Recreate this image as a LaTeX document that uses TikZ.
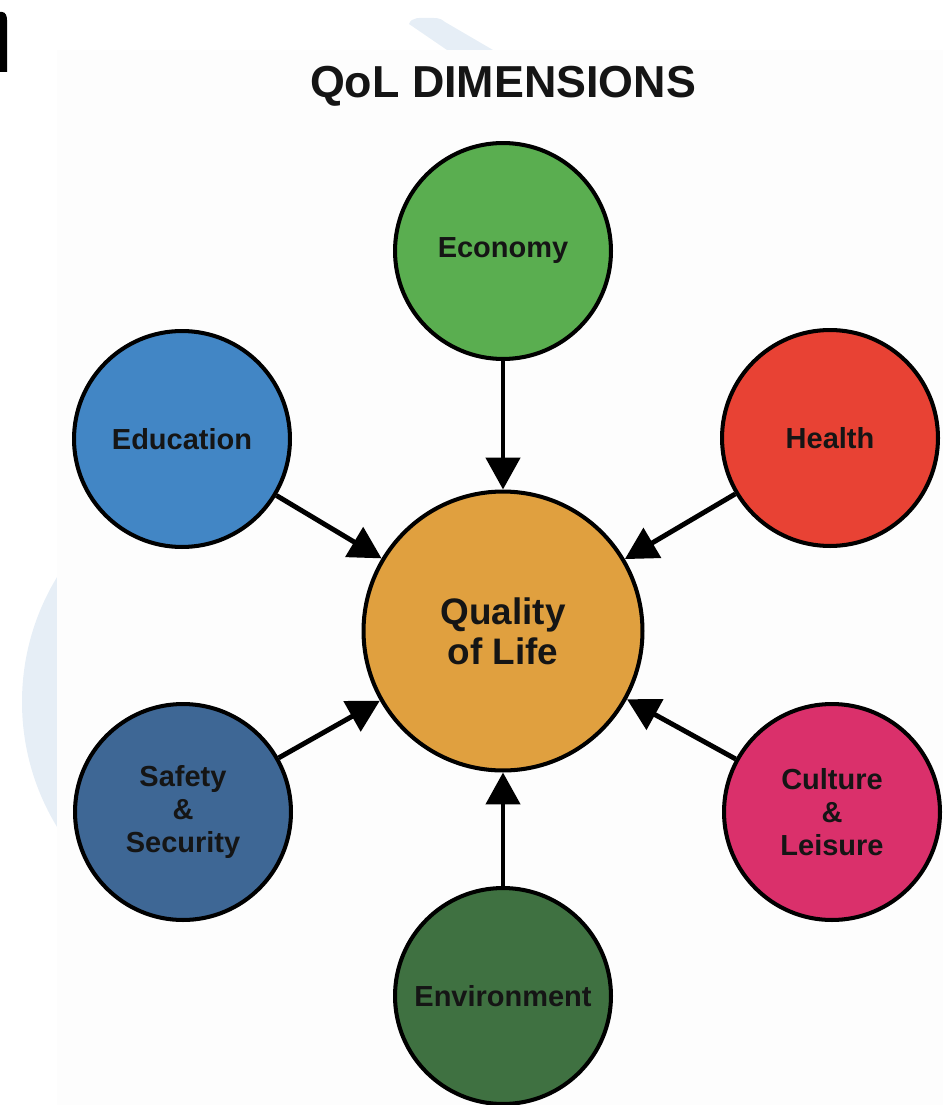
\documentclass[tikz,border=0pt]{standalone}
\usepackage{fontspec}
\setmainfont{Liberation Sans}
\usetikzlibrary{arrows.meta}
\definecolor{econ}{HTML}{5AAE50}
\definecolor{educ}{HTML}{4286C5}
\definecolor{heal}{HTML}{E84234}
\definecolor{qolc}{HTML}{E0A03F}
\definecolor{safe}{HTML}{3E6795}
\definecolor{cult}{HTML}{DA306B}
\definecolor{envi}{HTML}{3F7141}
\definecolor{txt}{HTML}{151515}
\definecolor{pale}{HTML}{E6EEF6}
\definecolor{panel}{HTML}{FDFDFD}
\begin{document}
\begin{tikzpicture}[x=0.02cm,y=-0.02cm,
  dim/.style={circle, draw=black, line width=2.3pt, minimum size=4.32cm, inner sep=0pt, align=center,
              font=\fontsize{16.5}{18.7}\selectfont\bfseries, text=txt},
  core/.style={dim, minimum size=5.58cm, font=\fontsize{21}{22.7}\selectfont\bfseries},
  feed/.style={line width=2.8pt, draw=black, -{Triangle[length=0.64cm,width=0.68cm]}},
  titlefont/.style={font=\fontsize{25.5}{28}\selectfont\bfseries, text=txt}]
\useasboundingbox (0,0) rectangle (943,1105);
% background watermark shapes
\fill[pale] (262,702) circle[radius=240];
\fill[pale] (409,24) to[out=70,in=180] (428,18) to[out=0,in=135] (445,22) -- (493,50) -- (447,50) -- cycle;
\fill[panel] (57,50) rectangle (943,1105);
% cropped letter fragment
\fill[black] (0,72) -- (0,12) -- (2,12) to[out=0,in=90] (7,20) -- (7,72) -- cycle;
% title
\node[titlefont] (title) at (503,86) {QoL DIMENSIONS};
% nodes
\node[core, fill=qolc] (qol) at (503,631) {Quality\\of Life};
\node[dim, fill=econ] (econ) at (503,251) {Economy};
\node[dim, fill=educ] (educ) at (182,439) {Education};
\node[dim, fill=heal] (heal) at (830,438) {Health};
\node[dim, fill=safe] (safe) at (183,812) {Safety\\\&\\Security};
\node[dim, fill=cult] (cult) at (832,812) {Culture\\\&\\Leisure};
\node[dim, fill=envi] (envi) at (503,996) {Environment};
% connectors
\draw[feed] (econ) -- (qol);
\draw[feed] (educ) -- (qol);
\draw[feed] (heal) -- (qol);
\draw[feed] (safe) -- (qol);
\draw[feed] (cult) -- (qol);
\draw[feed] (envi) -- (qol);
\end{tikzpicture}
\end{document}
